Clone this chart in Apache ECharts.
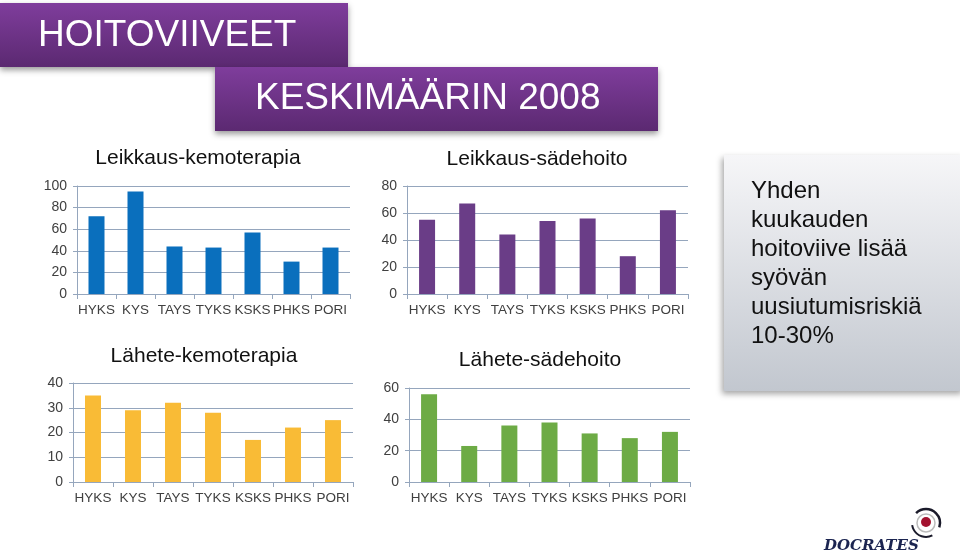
<!DOCTYPE html>
<html>
<head>
<meta charset="utf-8">
<script src="https://cdn.jsdelivr.net/npm/echarts@6/dist/echarts.min.js"></script>
<style>
html,body{margin:0;padding:0;background:#fff;}
#c{width:960px;height:559px;}
</style>
</head>
<body>
<div id="c"></div>
<script>
const categories = ['HYKS','KYS','TAYS','TYKS','KSKS','PHKS','PORI'];
const leikkausKemo = [72, 95, 44, 43, 57, 30, 43];
const leikkausSade = [55, 67, 44, 54, 56, 28, 62];
const laheteKemo = [35, 29, 32, 28, 17, 22, 25];
const laheteSade = [56, 23, 36, 38, 31, 28, 32];
const chartTitles = ['Leikkaus-kemoterapia','Leikkaus-sädehoito','Lähete-kemoterapia','Lähete-sädehoito'];
const yMax = [100, 80, 40, 60];
const yStep = [20, 20, 10, 20];
const headerLines = ['HOITOVIIVEET','KESKIMÄÄRIN 2008'];
const noteLines = ['Yhden','kuukauden','hoitoviive lisää','syövän','uusiutumisriskiä','10-30%'];

const FONT = '"Liberation Sans", Arial, sans-serif';
const gridColor = '#95a6bd';
const labelColor = '#404040';
const colors = ['#0a6fbd','#6a3d87','#f9bb36','#6dab45'];
const seriesData = [leikkausKemo, leikkausSade, laheteKemo, laheteSade];

const grids = [
  {left:77, width:273, top:186, height:108},
  {left:407, width:281, top:186, height:108},
  {left:73, width:280, top:383, height:99},
  {left:409, width:281, top:388, height:94}
];
const titlePos = [[198,146],[537,147],[204,344],[540,348]];

const xAxes = [], yAxes = [], series = [], titles = [];
for (let i = 0; i < 4; i++) {
  xAxes.push({
    type:'category', gridIndex:i, data:categories,
    axisLine:{show:true, lineStyle:{color:gridColor, width:1}},
    axisTick:{show:true, length:5, lineStyle:{color:gridColor}},
    axisLabel:{color:labelColor, fontSize:13.5, fontFamily:FONT, margin:9, interval:0}
  });
  yAxes.push({
    type:'value', gridIndex:i, min:0, max:yMax[i], interval:yStep[i],
    axisLine:{show:true, lineStyle:{color:gridColor, width:1}},
    axisTick:{show:true, length:4, lineStyle:{color:gridColor}},
    axisLabel:{color:labelColor, fontSize:14, fontFamily:FONT, margin:10},
    splitLine:{show:true, lineStyle:{color:gridColor, width:1}}
  });
  series.push({
    type:'bar', xAxisIndex:i, yAxisIndex:i, data:seriesData[i],
    barWidth:16, itemStyle:{color:colors[i]}, animation:false
  });
  titles.push({
    text:chartTitles[i], left:titlePos[i][0], top:titlePos[i][1], textAlign:'center', padding:0,
    textStyle:{fontSize:21, fontWeight:'normal', color:'#111', fontFamily:FONT, lineHeight:24}
  });
}

const purpleGrad = {type:'linear', x:0, y:0, x2:0, y2:1, colorStops:[
  {offset:0, color:'#7f3d9c'}, {offset:1, color:'#5b2971'}]};
const noteGrad = {type:'linear', x:0, y:0, x2:0, y2:1, colorStops:[
  {offset:0, color:'#f6f6f8'}, {offset:1, color:'#c2c7cf'}]};

const graphic = [
  {type:'rect', shape:{x:0, y:3, width:348, height:64},
   style:{fill:purpleGrad, shadowBlur:6, shadowOffsetY:3, shadowColor:'rgba(0,0,0,0.4)'}, z:1},
  {type:'rect', shape:{x:215, y:67, width:443, height:64},
   style:{fill:purpleGrad, shadowBlur:6, shadowOffsetY:3, shadowColor:'rgba(0,0,0,0.4)'}, z:2},
  {type:'text', x:38, y:36, z:3,
   style:{text:headerLines[0], fill:'#fff', font:'37px ' + FONT, textVerticalAlign:'middle'}},
  {type:'text', x:255, y:99, z:3,
   style:{text:headerLines[1], fill:'#fff', font:'37px ' + FONT, textVerticalAlign:'middle'}},
  {type:'rect', shape:{x:724, y:155, width:240, height:236},
   style:{fill:noteGrad, shadowBlur:6, shadowOffsetX:-2, shadowOffsetY:3, shadowColor:'rgba(0,0,0,0.35)'}, z:1},
  {type:'text', x:751, y:177, z:3,
   style:{text:noteLines.join('\n'), fill:'#111', font:'24px ' + FONT, lineHeight:29, textVerticalAlign:'top'}},
  // logo
  {type:'circle', shape:{cx:926, cy:523, r:9}, style:{fill:'none', stroke:'#bbb', lineWidth:1.5}, z:3},
  {type:'circle', shape:{cx:926, cy:522, r:5}, style:{fill:'#a3122f'}, z:4},
  {type:'arc', shape:{cx:926, cy:523, r:14, startAngle:-Math.PI*0.75, endAngle:Math.PI*0.1}, style:{fill:'none', stroke:'#1a1a2a', lineWidth:2.5}, z:3},
  {type:'arc', shape:{cx:926, cy:523, r:14, startAngle:Math.PI*0.35, endAngle:Math.PI*0.95}, style:{fill:'none', stroke:'#1a1a2a', lineWidth:2}, z:3},
  {type:'text', x:824, y:546, z:3,
   style:{text:'DOCRATES', fill:'#1b2450', font:'italic bold 15px "DejaVu Serif", serif', textVerticalAlign:'middle'}}
];

const chart = echarts.init(document.getElementById('c'));
chart.setOption({
  animation:false,
  backgroundColor:'#fff',
  title:titles,
  grid:grids,
  xAxis:xAxes,
  yAxis:yAxes,
  series:series,
  graphic:graphic
});
</script>
</body>
</html>
